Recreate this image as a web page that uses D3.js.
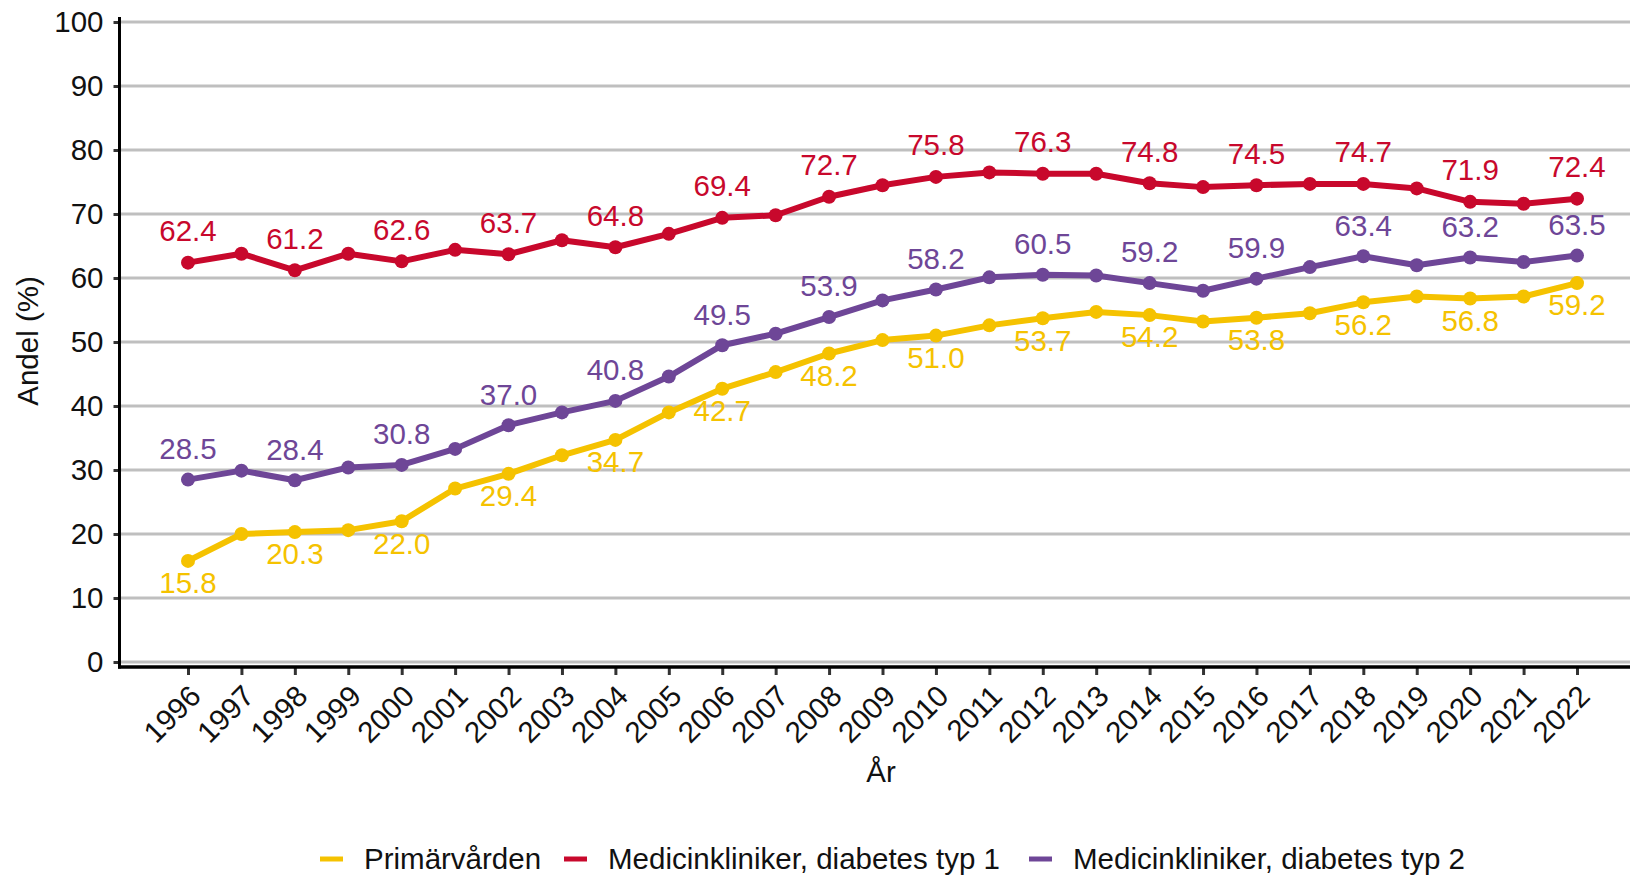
<!DOCTYPE html>
<html>
<head>
<meta charset="utf-8">
<script src="https://cdn.jsdelivr.net/npm/d3@7"></script>
<style>
  body { margin: 0; background: #fff; }
  svg { display: block; font-family: "Liberation Sans", Arial, sans-serif; }
</style>
</head>
<body>
<svg id="chart"></svg>
<script>
// years on the x axis
var years = [1996, 1997, 1998, 1999, 2000, 2001, 2002, 2003, 2004, 2005, 2006, 2007, 2008,
  2009, 2010, 2011, 2012, 2013, 2014, 2015, 2016, 2017, 2018, 2019, 2020, 2021, 2022];

// Primärvården
var primar = [15.8, 20.0, 20.3, 20.6, 22.0, 27.1, 29.4, 32.3, 34.7, 39.0, 42.7, 45.3, 48.2,
  50.3, 51.0, 52.6, 53.7, 54.7, 54.2, 53.2, 53.8, 54.5, 56.2, 57.1, 56.8, 57.1, 59.2];

// Medicinkliniker, diabetes typ 1
var typ1 = [62.4, 63.8, 61.2, 63.8, 62.6, 64.4, 63.7, 65.9, 64.8, 66.9, 69.4, 69.8, 72.7,
  74.5, 75.8, 76.5, 76.3, 76.3, 74.8, 74.2, 74.5, 74.7, 74.7, 74.0, 71.9, 71.6, 72.4];

// Medicinkliniker, diabetes typ 2
var typ2 = [28.5, 29.9, 28.4, 30.4, 30.8, 33.3, 37.0, 39.0, 40.8, 44.6, 49.5, 51.3, 53.9,
  56.5, 58.2, 60.1, 60.5, 60.4, 59.2, 58.0, 59.9, 61.7, 63.4, 62.0, 63.2, 62.5, 63.5];

var yTicks = [0, 10, 20, 30, 40, 50, 60, 70, 80, 90, 100];

var series = [
  { name: "Primärvården", values: primar, color: "#F5C200", labelDy: 22 },
  { name: "Medicinkliniker, diabetes typ 1", values: typ1, color: "#C8082C", labelDy: -32 },
  { name: "Medicinkliniker, diabetes typ 2", values: typ2, color: "#6E4697", labelDy: -31 }
];

var svgWidth = 1630, svgHeight = 875;
var fontSize = 29.5;

var svg = d3.select("#chart")
  .attr("width", svgWidth)
  .attr("height", svgHeight);

var x = d3.scalePoint()
  .domain(years)
  .range([188, 1577]);

var y = d3.scaleLinear()
  .domain([0, 100])
  .range([662, 22]);

var axisLeftX = 119.5, axisBottomY = 667;

// horizontal gridlines
svg.append("g")
  .selectAll("line")
  .data(yTicks)
  .join("line")
  .attr("x1", axisLeftX)
  .attr("x2", svgWidth)
  .attr("y1", d => y(d))
  .attr("y2", d => y(d))
  .attr("stroke", "#bfbfbf")
  .attr("stroke-width", 3);

// y axis
var yAxis = svg.append("g")
  .attr("transform", "translate(" + axisLeftX + ",0)")
  .call(d3.axisLeft(y).tickValues(yTicks).tickSize(6).tickPadding(10));
yAxis.select(".domain").remove();
yAxis.selectAll(".tick line").attr("stroke", "#333").attr("stroke-width", 3);
yAxis.selectAll(".tick text")
  .attr("fill", "#111")
  .style("font-size", fontSize + "px")
  .style("font-family", "Liberation Sans, Arial, sans-serif");

svg.append("line")
  .attr("x1", axisLeftX).attr("x2", axisLeftX)
  .attr("y1", 17).attr("y2", axisBottomY + 1.5)
  .attr("stroke", "#000").attr("stroke-width", 3);

// x axis
var xAxis = svg.append("g")
  .attr("transform", "translate(0," + axisBottomY + ")")
  .call(d3.axisBottom(x).tickSize(8).tickSizeOuter(0));
xAxis.select(".domain").remove();
xAxis.selectAll(".tick line").attr("stroke", "#333").attr("stroke-width", 3);
xAxis.selectAll(".tick text")
  .attr("fill", "#111")
  .style("font-size", fontSize + "px")
  .style("font-family", "Liberation Sans, Arial, sans-serif")
  .attr("text-anchor", "end")
  .attr("y", 0)
  .attr("dy", 0)
  .attr("transform", "translate(14,31) rotate(-45)");

svg.append("line")
  .attr("x1", axisLeftX - 1.5).attr("x2", svgWidth)
  .attr("y1", axisBottomY).attr("y2", axisBottomY)
  .attr("stroke", "#000").attr("stroke-width", 3.5);

// axis titles
svg.append("text")
  .attr("x", 881)
  .attr("y", 782)
  .attr("text-anchor", "middle")
  .attr("fill", "#111")
  .style("font-size", fontSize + "px")
  .text("År");

svg.append("text")
  .attr("transform", "translate(38,341) rotate(-90)")
  .attr("text-anchor", "middle")
  .attr("fill", "#111")
  .style("font-size", fontSize + "px")
  .text("Andel (%)");

// lines, points, labels
var line = d3.line()
  .x((d, i) => x(years[i]))
  .y(d => y(d));

series.forEach(function(s) {
  var g = svg.append("g");
  g.append("path")
    .datum(s.values)
    .attr("fill", "none")
    .attr("stroke", s.color)
    .attr("stroke-width", 6)
    .attr("stroke-linejoin", "round")
    .attr("d", line);

  g.selectAll("circle")
    .data(s.values)
    .join("circle")
    .attr("cx", (d, i) => x(years[i]))
    .attr("cy", d => y(d))
    .attr("r", 7)
    .attr("fill", s.color);

  g.selectAll("text")
    .data(s.values.filter((d, i) => i % 2 === 0))
    .join("text")
    .attr("x", (d, i) => x(years[i * 2]))
    .attr("y", d => y(d) + s.labelDy)
    .attr("dy", "0.35em")
    .attr("text-anchor", "middle")
    .attr("fill", s.color)
    .style("font-size", fontSize + "px")
    .text(d => d.toFixed(1));
});

// legend
var legendX = [320, 564, 1029];
var legend = svg.append("g");
series.forEach(function(s, i) {
  legend.append("line")
    .attr("x1", legendX[i]).attr("x2", legendX[i] + 23)
    .attr("y1", 859).attr("y2", 859)
    .attr("stroke", s.color)
    .attr("stroke-width", 5);
  legend.append("text")
    .attr("x", legendX[i] + 44)
    .attr("y", 859)
    .attr("dy", "0.35em")
    .attr("fill", "#111")
    .style("font-size", fontSize + "px")
    .text(s.name);
});
</script>
</body>
</html>
